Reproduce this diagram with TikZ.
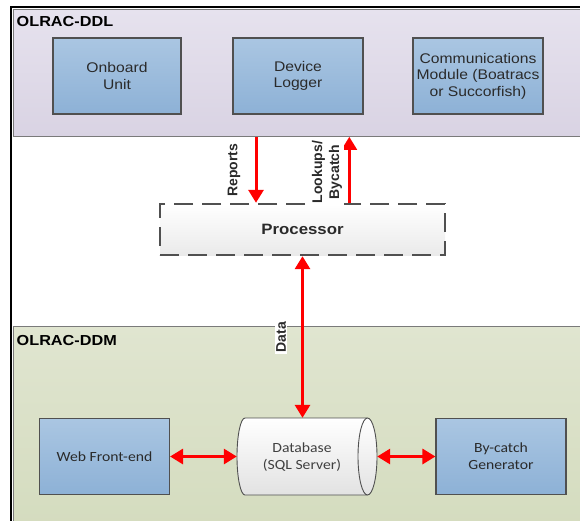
\documentclass[tikz,border=0pt]{standalone}
\usepackage{fontspec}
\setmainfont{Liberation Sans}[FakeStretch=1.12]
\newfontfamily\calib{Carlito}[FakeStretch=1.12]
\newfontfamily\rotf{Liberation Sans}
\usetikzlibrary{arrows.meta}
\definecolor{ddltop}{HTML}{E6E2EE}
\definecolor{ddlbot}{HTML}{D9D3E3}
\definecolor{ddmtop}{HTML}{E0E5D0}
\definecolor{ddmbot}{HTML}{D3DBBD}
\definecolor{boxtop}{HTML}{AAC6E2}
\definecolor{boxbot}{HTML}{8DB1D6}
\definecolor{boxline}{HTML}{505050}
\definecolor{panelline}{HTML}{7A7A7A}
\definecolor{txt}{HTML}{2A2A2A}
\definecolor{dbtxtc}{HTML}{404040}
\definecolor{dbbot}{HTML}{E2E2E2}
\definecolor{procbot}{HTML}{EAEAEA}
\definecolor{arrred}{HTML}{FF0000}
\tikzset{
  panel/.style={draw=panelline, line width=0.8pt, inner sep=0pt, anchor=north west},
  box/.style={draw=boxline, line width=1.1pt, top color=boxtop, bottom color=boxbot,
    minimum width=130pt, minimum height=76pt, inner sep=0pt, align=center,
    text=txt, font=\fontsize{14}{16.5}\selectfont},
  cbox/.style={box, font=\calib\fontsize{14}{17}\selectfont},
  panellbl/.style={anchor=west, inner sep=0pt, text=black, font=\bfseries\fontsize{14.5}{16}\selectfont},
  procbox/.style={draw=boxline, line width=2.4pt, dash pattern=on 19pt off 9pt,
    top color=white, bottom color=procbot, inner sep=0pt,
    font=\bfseries\fontsize{15}{17}\selectfont, text=txt},
  flowlbl/.style={rotate=90, fill=white, inner sep=1.5pt, align=center, text=txt,
    font=\rotf\bfseries\fontsize{14}{17}\selectfont},
  tipa/.tip={Triangle[width=15pt,length=13pt]},
  arr/.style={draw=arrred, line width=3pt, -tipa},
  arrb/.style={draw=arrred, line width=3pt, tipa-tipa}
}
\begin{document}
\begin{tikzpicture}[x=1pt,y=-1pt]
\useasboundingbox (0,0) rectangle (580,520);
% panels
\node[panel, top color=ddltop, bottom color=ddlbot, minimum width=600pt, minimum height=127pt] (ddl) at (13,9) {};
\node[panel, top color=ddmtop, bottom color=ddmbot, minimum width=600pt, minimum height=220pt] (ddm) at (13,326) {};
% outer frame
\draw[black, line width=2.6pt] (11,600) -- (11,7) -- (600,7);
\node[panellbl] (ddllbl) at (16.5,22) {OLRAC-DDL};
\node[panellbl] (ddmlbl) at (16.5,340) {OLRAC-DDM};
% top boxes
\node[box, minimum width=128pt] (onb) at (117,76) {Onboard\\Unit};
\node[box] (dlog) at (298,76) {Device\\Logger};
\node[box] (comm) at (478,76) {Communications\\Module (Boatracs\\or Succorfish)};
% processor
\node[procbox, minimum width=285pt, minimum height=51pt] (proc) at (302.5,229.5) {Processor};
% bottom boxes
\node[cbox] (web) at (104.5,456.5) {Web Front-end};
\node[cbox] (byc) at (501,456.5) {By-catch\\Generator};
% database
\draw[draw=boxline, line width=0.9pt, top color=white, bottom color=dbbot]
  (245,418) -- (367.5,418) arc[start angle=-90, end angle=90, x radius=9.5, y radius=38.5]
  -- (245,495) arc[start angle=90, end angle=270, x radius=8, y radius=38.5] -- cycle;
\draw[draw=boxline, line width=0.9pt] (367.5,418) arc[start angle=270, end angle=90, x radius=9.5, y radius=38.5];
\node[minimum width=140pt, minimum height=77pt, inner sep=0pt] (db) at (307,456.5) {};
\node[align=center, inner sep=0pt, text=dbtxtc, font=\calib\fontsize{14}{17}\selectfont] (dbtxt) at (302,457) {Database\\(SQL Server)};
% connectors
\coordinate (rx) at (256,0);
\coordinate (lx) at (349.3,0);
\draw[arr] (ddl.south -| rx) -- (proc.north -| rx);
\draw[arr] (proc.north -| lx) -- (ddl.south -| lx);
\draw[arrb] (proc.south) -- (proc.south |- db.north);
\draw[arrb] (web.east) -- (db.west);
\draw[arrb] (db.east) -- (byc.west);
% labels
\node[flowlbl] (replbl) at (234,170) {Reports};
\node[flowlbl] (looklbl) at (327,172) {Lookups/\\Bycatch};
\node[flowlbl] (datalbl) at (281,337) {Data};
\end{tikzpicture}
\end{document}
